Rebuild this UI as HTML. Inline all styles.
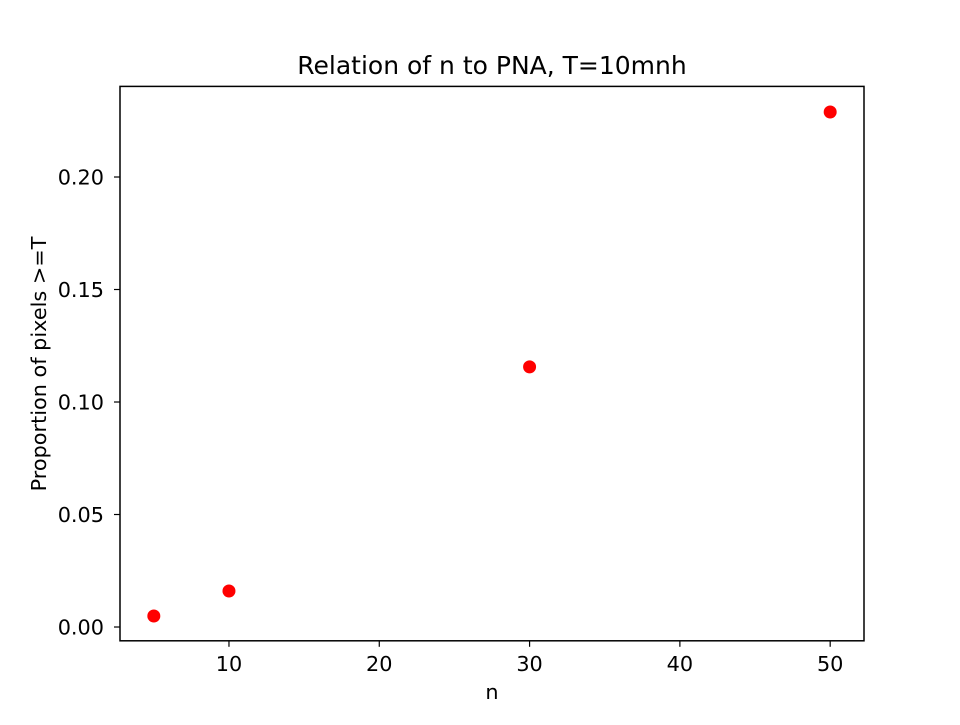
<!DOCTYPE html>
<html><head><meta charset="utf-8"><style>
html,body{margin:0;padding:0;background:#fff;}
svg text{font-family:"DejaVu Sans","Liberation Sans",sans-serif;fill:#000;}
</style></head><body>
<svg id="chart" width="960" height="720" viewBox="0 0 960 720" xmlns="http://www.w3.org/2000/svg">
<rect width="960" height="720" fill="#fff"/>
<text x="492" y="74" font-size="25" text-anchor="middle">Relation of n to PNA, T=10mnh</text>
<text x="492" y="699" font-size="20.8" text-anchor="middle">n</text>
<text x="0" y="0" font-size="20.8" text-anchor="middle" transform="translate(46,364) rotate(-90)">Proportion of pixels &gt;=T</text>
<g id="xticks"></g><g id="yticks"></g><g id="points"></g>
<rect x="120" y="86.4" width="744" height="554.4" fill="none" stroke="#000" stroke-width="1.5"/>
</svg>
<script>
const nValues = [5, 10, 30, 50];
const proportions = [0.0049, 0.016, 0.1156, 0.2289];
const xTickLabels = [10, 20, 30, 40, 50];
const yTickLabels = [0.00, 0.05, 0.10, 0.15, 0.20];
const L=120,R=864,T=86.4,B=640.8;
const xmin=2.75,xmax=52.25,ymin=-0.00613,ymax=0.24027;
const sx=v=>L+(v-xmin)/(xmax-xmin)*(R-L);
const sy=v=>B-(v-ymin)/(ymax-ymin)*(B-T);
const NS="http://www.w3.org/2000/svg";
function mk(tag,attrs,parent){const e=document.createElementNS(NS,tag);for(const k in attrs)e.setAttribute(k,attrs[k]);parent.appendChild(e);return e;}
const xg=document.getElementById('xticks');
xTickLabels.forEach(v=>{const x=sx(v);
const l=mk('line',{x1:x,x2:x,y1:B,y2:B+6,stroke:'#000','stroke-width':1.2},xg);


const t=mk('text',{x:x,y:671,'font-size':20.8,'text-anchor':'middle'},xg);t.textContent=v;

});
const yg=document.getElementById('yticks');
yTickLabels.forEach(v=>{const y=sy(v);
const l=mk('line',{x1:L-6,x2:L,y1:y,y2:y,stroke:'#000','stroke-width':1.2},yg);


const t=mk('text',{x:104,y:y+7.5,'font-size':20.8,'text-anchor':'end'},yg);t.textContent=v.toFixed(2);

});
const pg=document.getElementById('points');
nValues.forEach((n,i)=>{const c=mk('circle',{cx:sx(n),cy:sy(proportions[i]),r:6.5,fill:'#ff0000'},pg);

});
</script>
</body></html>
